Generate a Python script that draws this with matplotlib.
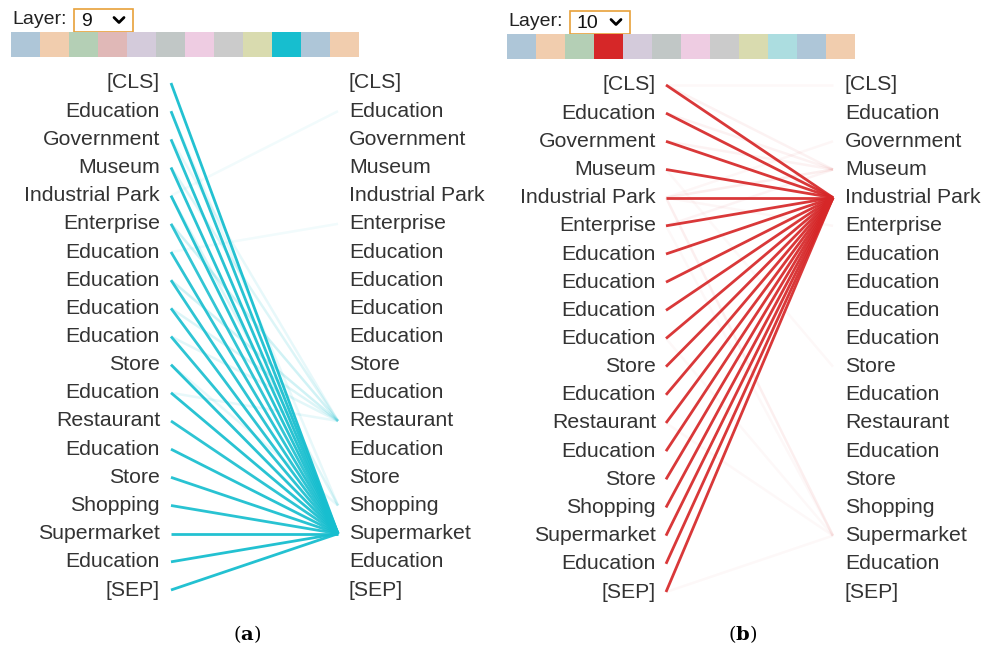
import numpy as np
import matplotlib
matplotlib.use('Agg')
import matplotlib.pyplot as plt
from matplotlib.patches import Rectangle

plt.rcParams['font.family'] = ['Liberation Sans', 'DejaVu Sans']
plt.rcParams['mathtext.fontset'] = 'dejavuserif'

# tokens of the input sentence
tokens = ['[CLS]', 'Education', 'Government', 'Museum', 'Industrial Park',
          'Enterprise', 'Education', 'Education', 'Education', 'Education',
          'Store', 'Education', 'Restaurant', 'Education', 'Store',
          'Shopping', 'Supermarket', 'Education', '[SEP]']

# head colour swatches
swatches_a = ['#aec6d8', '#f1cdae', '#b4cfb5', '#e0b8b7', '#d4cbdb', '#c1c7c6',
              '#eecce2', '#cbcbcb', '#d9dbaf', '#17becf', '#aec6d8', '#f1cdae']
swatches_b = ['#aec6d8', '#f1cdae', '#b4cfb5', '#d62728', '#d4cbdb', '#c1c7c6',
              '#eecce2', '#cbcbcb', '#d9dbaf', '#acdde0', '#aec6d8', '#f1cdae']

# layer 9: almost all attention goes to "Supermarket"
target_a = 16
weights_a = [0.95, 0.92, 0.92, 0.92, 0.92, 0.88, 0.9, 0.9, 0.9, 0.9,
             0.92, 0.92, 0.9, 0.92, 0.92, 0.92, 0.95, 0.95, 0.95]
extra_a = [(4, 1, 0.06), (6, 5, 0.06), (3, 12, 0.15), (5, 12, 0.2),
           (7, 12, 0.2), (8, 12, 0.15), (9, 12, 0.12), (4, 15, 0.15),
           (1, 15, 0.1), (10, 15, 0.1), (11, 12, 0.1), (2, 12, 0.1)]

# layer 10: almost all attention goes to "Industrial Park"
target_b = 4
weights_b = [0.92, 0.92, 0.92, 0.92, 0.92, 0.92, 0.92, 0.92, 0.92, 0.92,
             0.92, 0.92, 0.92, 0.92, 0.92, 0.92, 0.92, 0.92, 0.92]
extra_b = [(0, 3, 0.06), (1, 3, 0.06), (2, 3, 0.06), (4, 3, 0.08),
           (5, 3, 0.05), (4, 2, 0.04), (4, 16, 0.07), (5, 16, 0.03),
           (18, 16, 0.03), (12, 16, 0.03), (9, 16, 0.03), (3, 10, 0.03),
           (0, 0, 0.03), (4, 5, 0.04)]

fig = plt.figure(figsize=(9.94, 6.55), dpi=100)
ax = fig.add_axes([0, 0, 1, 1])
ax.set_xlim(0, 994)
ax.set_ylim(655, 0)
ax.axis('off')


def draw_panel(x0, box_x, box_w, layer, swatches, colour, target, weights,
               extra, lx, rx, x_left_end, x_right_end, y_top, y_bot, y_bar,
               caption):
    # layer selector
    ax.text(x0 + 1, y_bar - 12, 'Layer:', fontsize=14, va='center',
            ha='left', color='#222222')
    ax.add_patch(Rectangle((box_x, y_bar - 23), box_w, 23, fill=False,
                           edgecolor='#e8a13a', lw=1.2))
    ax.text(box_x + 7, y_bar - 11, str(layer), fontsize=14, va='center',
            ha='left', color='#111111')
    cx = box_x + box_w - 14
    cy = y_bar - 12
    ax.plot([cx - 5, cx, cx + 5], [cy - 2.5, cy + 2.5, cy - 2.5],
            color='black', lw=2, solid_capstyle='round')

    # colour swatches
    sw = 29
    for i, c in enumerate(swatches):
        ax.add_patch(Rectangle((x0 + i * sw, y_bar), sw, 25, color=c, lw=0))

    ys = np.linspace(y_top, y_bot, len(tokens))
    for i, t in enumerate(tokens):
        ax.text(lx, ys[i], t, fontsize=15.3, ha='right', va='center',
                color='#333333')
        ax.text(rx, ys[i], t, fontsize=15.3, ha='left', va='center',
                color='#333333')

    for s, d, w in extra:
        ax.plot([x_left_end, x_right_end], [ys[s], ys[d]], color=colour,
                alpha=w, lw=1.8, solid_capstyle='butt')
    for s, w in enumerate(weights):
        ax.plot([x_left_end, x_right_end], [ys[s], ys[target]], color=colour,
                alpha=w, lw=2.0, solid_capstyle='butt')

    ax.text((x_left_end + x_right_end) / 2 - 7, 634, caption, fontsize=14,
            ha='center', va='center', family='DejaVu Serif')


draw_panel(11, 74, 59, 9, swatches_a, '#17becf', target_a, weights_a,
           extra_a, 160, 349, 171, 338, 83, 590, 32, r'($\mathbf{a}$)')
draw_panel(507, 570, 60, 10, swatches_b, '#d62728', target_b, weights_b,
           extra_b, 656, 845, 666, 833, 85, 592, 34, r'($\mathbf{b}$)')

fig.savefig('out.png', dpi=100)
